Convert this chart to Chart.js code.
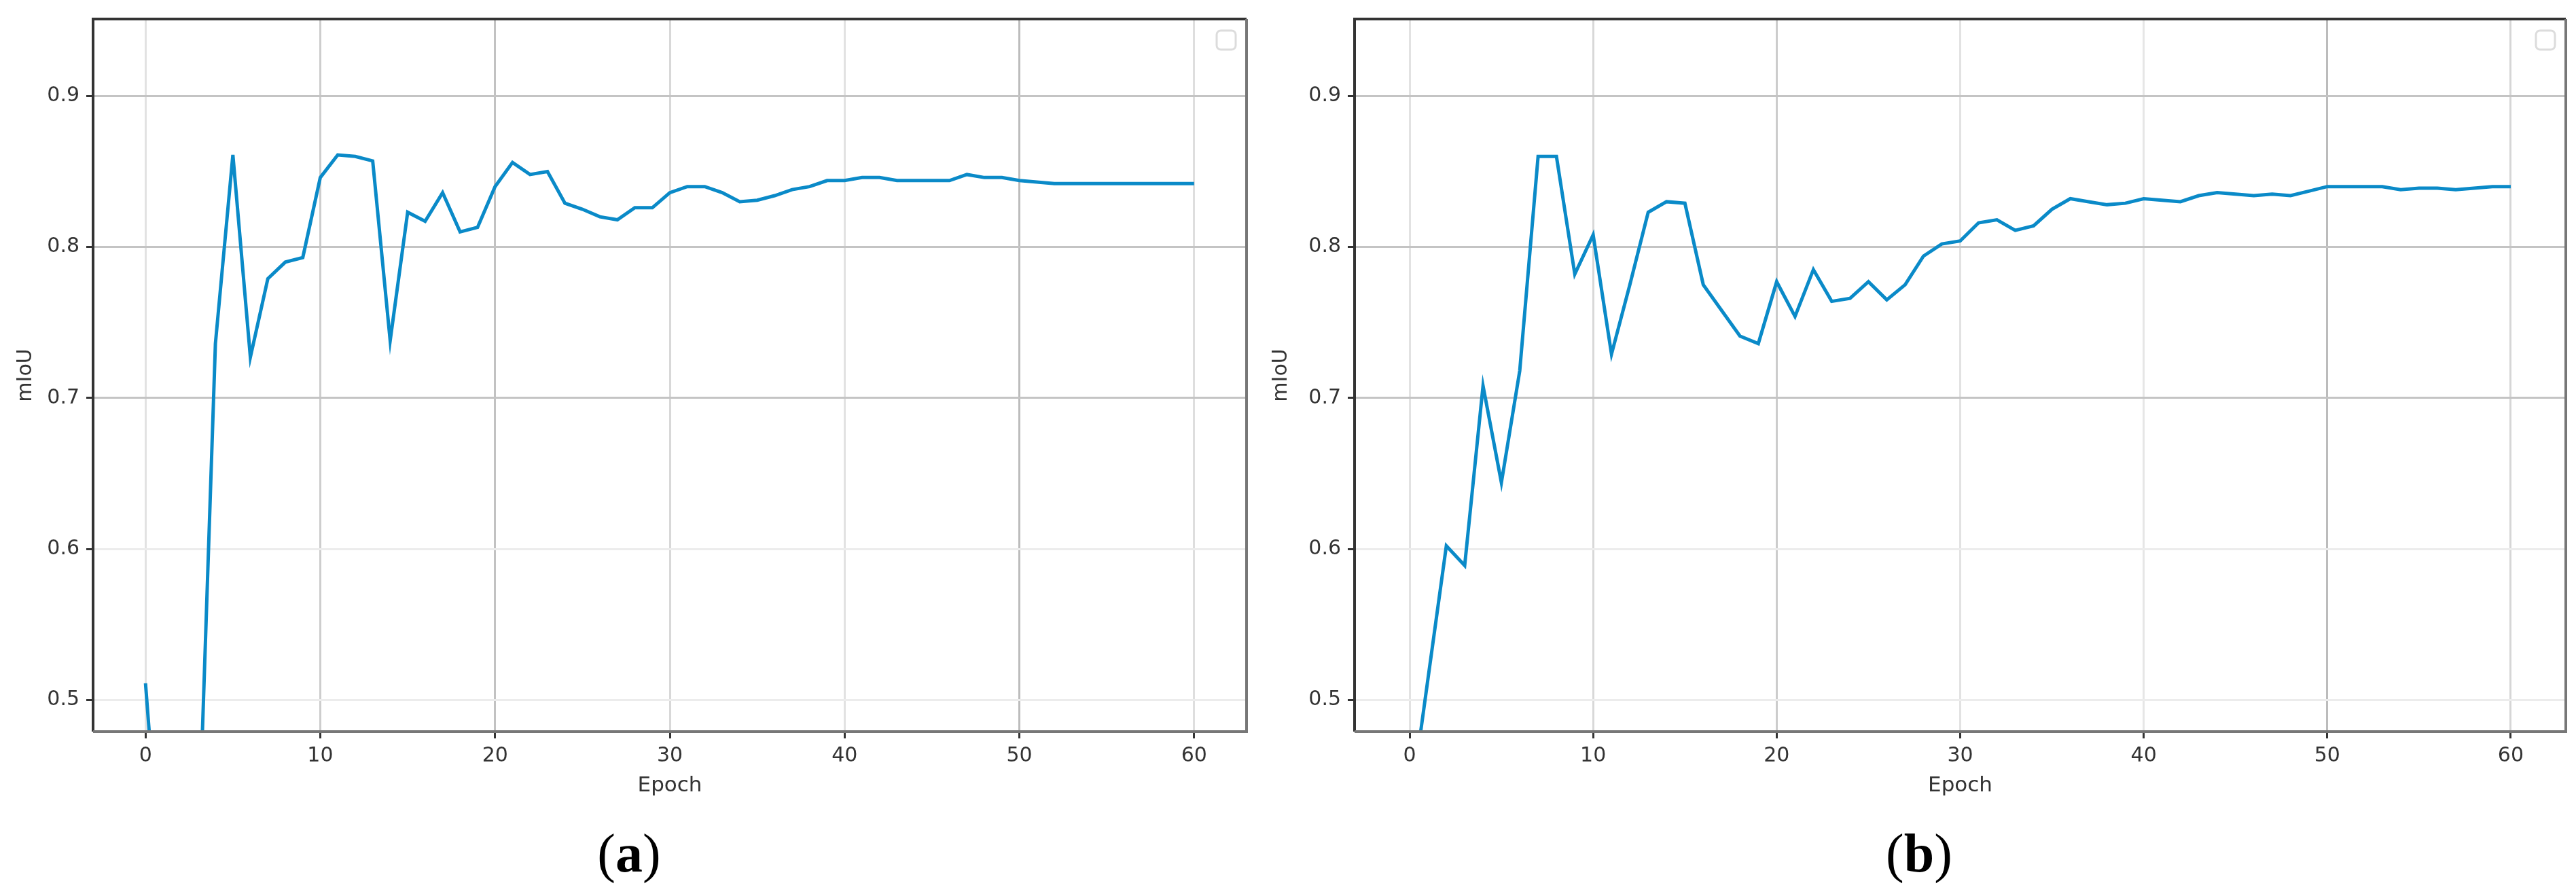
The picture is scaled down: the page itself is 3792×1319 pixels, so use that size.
<!DOCTYPE html>
<html>
<head>
<meta charset="utf-8">
<script src="https://cdn.jsdelivr.net/npm/chart.js@4.4.1/dist/chart.umd.min.js"></script>
<style>
  body { margin: 0; background: #fff; width: 3792px; height: 1319px; position: relative; overflow: hidden; }
  canvas { position: absolute; top: 0; }
  .cap { position: absolute; top: 1216px; width: 200px; text-align: center; font-family: "Liberation Serif", "Times New Roman", serif; font-size: 80px; line-height: 1; color: #000; }
</style>
</head>
<body>
<canvas id="chart_a" width="1860" height="1180" style="left:0px"></canvas>
<canvas id="chart_b" width="1932" height="1180" style="left:1860px"></canvas>
<div class="cap" style="left:826px">(<b>a</b>)</div>
<div class="cap" style="left:2725px">(<b>b</b>)</div>
<script>
// epochs 0..60
var epochs = [];
for (var i = 0; i <= 60; i++) epochs.push(i);

var miouA = [0.511, 0.36, 0.33, 0.39, 0.736, 0.861, 0.727, 0.779, 0.790, 0.793,
  0.846, 0.861, 0.860, 0.857, 0.738, 0.823, 0.817, 0.836, 0.810, 0.813,
  0.840, 0.856, 0.848, 0.850, 0.829, 0.825, 0.820, 0.818, 0.826, 0.826,
  0.836, 0.840, 0.840, 0.836, 0.830, 0.831, 0.834, 0.838, 0.840, 0.844,
  0.844, 0.846, 0.846, 0.844, 0.844, 0.844, 0.844, 0.848, 0.846, 0.846,
  0.844, 0.843, 0.842, 0.842, 0.842, 0.842, 0.842, 0.842, 0.842, 0.842,
  0.842];

var miouB = [0.426, 0.514, 0.602, 0.589, 0.708, 0.644, 0.718, 0.860, 0.860, 0.782,
  0.808, 0.729, 0.775, 0.823, 0.830, 0.829, 0.775, 0.758, 0.741, 0.736,
  0.777, 0.754, 0.785, 0.764, 0.766, 0.777, 0.765, 0.775, 0.794, 0.802,
  0.804, 0.816, 0.818, 0.811, 0.814, 0.825, 0.832, 0.830, 0.828, 0.829,
  0.832, 0.831, 0.830, 0.834, 0.836, 0.835, 0.834, 0.835, 0.834, 0.837,
  0.840, 0.840, 0.840, 0.840, 0.838, 0.839, 0.839, 0.838, 0.839, 0.840,
  0.840];

var xTicks = [0, 10, 20, 30, 40, 50, 60];
var yTicks = [0.5, 0.6, 0.7, 0.8, 0.9];

// grid shades differ per line in the (blurry) source image
var gridXA = { 0: "#e2e2e2", 10: "#cdcdcd", 20: "#c2c2c2", 30: "#d8d8d8", 40: "#e2e2e2", 50: "#bcbcbc", 60: "#dedede" };
var gridXB = { 0: "#e2e2e2", 10: "#d8d8d8", 20: "#cccccc", 30: "#e2e2e2", 40: "#e6e6e6", 50: "#bcbcbc", 60: "#d6d6d6" };
var gridY = { "0.5": "#ececec", "0.6": "#ececec", "0.7": "#c4c4c4", "0.8": "#c4c4c4", "0.9": "#c4c4c4" };

var boxPlugin = {
  id: "axesBox",
  afterDatasetsDraw: function(chart) {
    var a = chart.chartArea;
    var c = chart.ctx;
    c.save();
    c.lineWidth = 4;
    c.strokeStyle = "#333";
    c.beginPath();
    c.moveTo(a.left, a.bottom); c.lineTo(a.left, a.top); c.lineTo(a.right, a.top);
    c.stroke();
    c.strokeStyle = "#777";
    c.beginPath();
    c.moveTo(a.right, a.top); c.lineTo(a.right, a.bottom); c.lineTo(a.left, a.bottom);
    c.stroke();
    // empty legend box
    c.strokeStyle = "#dcdcdc";
    c.lineWidth = 3;
    c.beginPath();
    c.roundRect(a.right - 44, a.top + 17, 28, 28, 6);
    c.stroke();
    c.restore();
  }
};

function drawMiouChart(canvasId, values, gridX, yAxisWidth, rightPad, titlePad) {
  var ctx = document.getElementById(canvasId).getContext("2d");
  var points = [];
  for (var i = 0; i < epochs.length; i++) {
    points.push({ x: epochs[i], y: values[i] });
  }
  var tickFont = { family: "DejaVu Sans", size: 30 };

  return new Chart(ctx, {
    type: "line",
    data: {
      datasets: [{
        data: points,
        borderColor: "#0a8ac8",
        borderWidth: 5,
        pointRadius: 0,
        tension: 0,
        fill: false,
        clip: 0
      }]
    },
    options: {
      responsive: false,
      animation: false,
      devicePixelRatio: 1,
      layout: { padding: { top: 15, right: rightPad, left: 0, bottom: 0 } },
      plugins: { legend: { display: false }, tooltip: { enabled: false } },
      scales: {
        x: {
          type: "linear",
          min: -3,
          max: 63,
          afterFit: function(s) { s.height = 103; },
          afterBuildTicks: function(s) { s.ticks = xTicks.map(function(v) { return { value: v }; }); },
          ticks: { color: "#333", font: tickFont, padding: 8, maxRotation: 0, autoSkip: false },
          grid: {
            color: function(c) { return gridX[c.tick.value] || "#e0e0e0"; },
            lineWidth: 3,
            tickLength: 10,
            tickColor: "#333",
            tickWidth: 3
          },
          border: { display: false },
          title: { display: true, text: "Epoch", color: "#333", font: { family: "DejaVu Sans", size: 31 }, padding: { top: 0, bottom: 4 } }
        },
        y: {
          min: 0.479,
          max: 0.951,
          afterFit: function(s) { s.width = yAxisWidth; },
          afterBuildTicks: function(s) { s.ticks = yTicks.map(function(v) { return { value: v }; }); },
          ticks: {
            color: "#333",
            font: tickFont,
            padding: 10,
            callback: function(v) { return v.toFixed(1); }
          },
          grid: {
            color: function(c) { return gridY[c.tick.value.toFixed(1)] || "#e0e0e0"; },
            lineWidth: 3,
            tickLength: 10,
            tickColor: "#333",
            tickWidth: 3
          },
          border: { display: false },
          title: { display: true, text: "mIoU", color: "#333", font: { family: "DejaVu Sans", size: 30 }, padding: { top: titlePad, bottom: 0 } }
        }
      }
    },
    plugins: [boxPlugin]
  });
}

drawMiouChart("chart_a", miouA, gridXA, 137, 25, 20);
drawMiouChart("chart_b", miouB, gridXB, 134, 15, 8);
</script>
</body>
</html>
